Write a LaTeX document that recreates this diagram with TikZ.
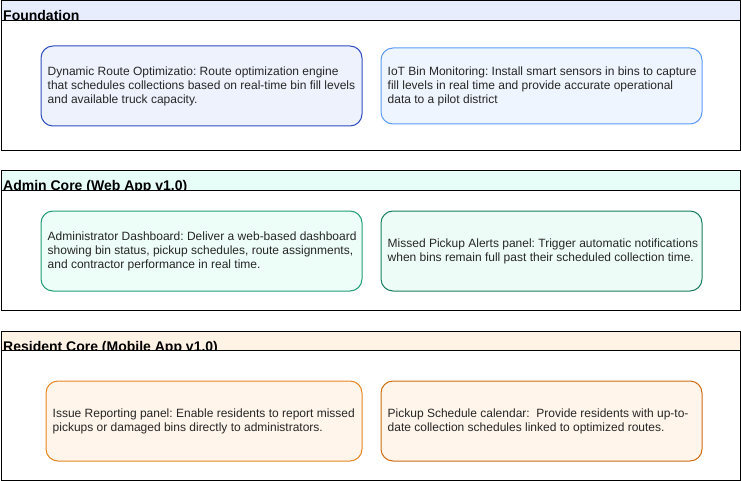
\documentclass[tikz,border=0pt]{standalone}
\usepackage{fontspec}
\setmainfont{Liberation Sans}
\frenchspacing
\begin{document}
\begin{tikzpicture}[x=1pt,y=-1pt,
  lanebody/.style={draw=black,fill=white,line width=1pt,anchor=north west,inner sep=0pt,minimum width=739pt},
  lanehdr/.style={draw=black,line width=1pt,anchor=north west,inner sep=0pt,minimum width=739pt,minimum height=20pt},
  lanetitle/.style={anchor=base west,inner sep=0pt,font=\fontsize{14}{16}\selectfont\bfseries},
  card/.style={draw,rounded corners=12pt,line width=1pt,anchor=north west,inner sep=0pt,minimum width=321pt,minimum height=80pt},
  cardtext/.style={anchor=west,inner sep=0pt,align=left,font=\fontsize{12}{14}\selectfont,text=black!85}
]
\definecolor{h1}{HTML}{E7EDFD}
\definecolor{h2}{HTML}{E6FDF8}
\definecolor{h3}{HTML}{FFF3E6}
\definecolor{f1}{HTML}{EDF2FD}
\definecolor{d1}{HTML}{2F4FBF}
\definecolor{f2}{HTML}{EFF5FE}
\definecolor{d2}{HTML}{5B9BF5}
\definecolor{fa}{HTML}{EDFDF8}
\definecolor{da}{HTML}{1F9E74}
\definecolor{fb}{HTML}{EEFCF8}
\definecolor{db}{HTML}{187F5B}
\definecolor{fc}{HTML}{FFF5EB}
\definecolor{dc}{HTML}{E5861F}
\definecolor{fd}{HTML}{FFF5EB}
\definecolor{dd}{HTML}{CF6C12}
\useasboundingbox (0,0) rectangle (741,481);

% Lane 1
\node[lanehdr,fill=h1] (L1h) at (0.5,0.5) {};
\node[lanetitle] (L1t) at (3,21) {Foundation};
\node[lanebody,minimum height=130pt] (L1) at (0.5,20) {};
% Lane 2
\node[lanehdr,fill=h2] (L2h) at (0.5,170.5) {};
\node[lanetitle] (L2t) at (3,191) {Admin Core (Web App v1.0)};
\node[lanebody,minimum height=120pt] (L2) at (0.5,190) {};
% Lane 3
\node[lanehdr,fill=h3] (L3h) at (0.5,330.5) {};
\node[lanetitle] (L3t) at (3,351) {Resident Core (Mobile App v1.0)};
\node[lanebody,minimum height=130pt] (L3) at (0.5,350) {};

% Cards lane 1
\node[card,draw=d1,fill=f1] (c1) at (40.5,45.5) {};
\node[cardtext] (c1t) at ([xshift=7pt]c1.west) {Dynamic Route Optimizatio: Route optimization engine\\that schedules collections based on real-time bin fill levels\\and available truck capacity.};
\node[card,draw=d2,fill=f2,minimum height=76pt] (c2) at (380.5,47.5) {};
\node[cardtext] (c2t) at ([xshift=7pt]c2.west) {IoT Bin Monitoring: Install smart sensors in bins to capture\\fill levels in real time and provide accurate operational\\data to a pilot district};

% Cards lane 2
\node[card,draw=da,fill=fa] (ca) at (40.5,210.5) {};
\node[cardtext] (cat) at ([xshift=7pt]ca.west) {Administrator Dashboard: Deliver a web-based dashboard\\showing bin status, pickup schedules, route assignments,\\and contractor performance in real time.};
\node[card,draw=db,fill=fb] (cb) at (380.5,210.5) {};
\node[cardtext] (cbt) at ([xshift=7pt]cb.west) {Missed Pickup Alerts panel: Trigger automatic notifications\\when bins remain full past their scheduled collection time.};

% Cards lane 3
\node[card,draw=dc,fill=fc,minimum width=316pt] (cc) at (45.5,380.5) {};
\node[cardtext] (cct) at ([xshift=7pt]cc.west) {Issue Reporting panel: Enable residents to report missed\\pickups or damaged bins directly to administrators.};
\node[card,draw=dd,fill=fd] (cd) at (380.5,380.5) {};
\node[cardtext] (cdt) at ([xshift=7pt]cd.west) {Pickup Schedule calendar:\ \ Provide residents with up-to-\\date collection schedules linked to optimized routes.};
\end{tikzpicture}
\end{document}
